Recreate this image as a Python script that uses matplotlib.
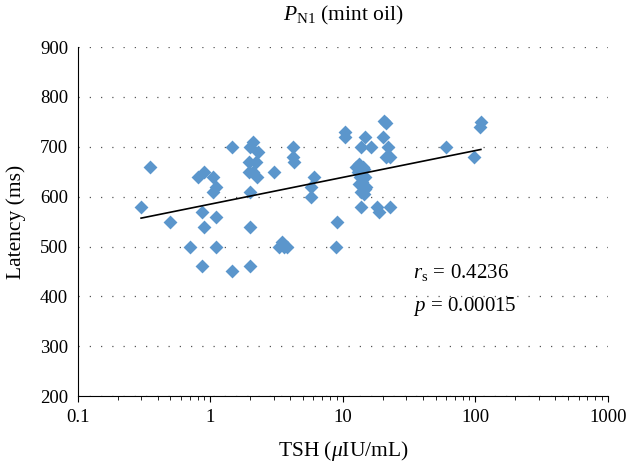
import numpy as np
import matplotlib
matplotlib.use("Agg")
from matplotlib import pyplot as plt
from matplotlib.ticker import LogLocator, NullFormatter

plt.rcParams['font.family'] = ['Liberation Serif', 'DejaVu Serif']
plt.rcParams['mathtext.fontset'] = 'custom'
plt.rcParams['mathtext.rm'] = 'Liberation Serif'
plt.rcParams['mathtext.it'] = 'Liberation Serif:italic'

# TSH (uIU/mL) vs latency (ms)
tsh = [0.3, 0.35, 0.5, 0.7, 0.87, 0.87, 0.9, 0.8, 0.9, 1.05, 1.1, 1.05, 1.1, 1.1,
       1.45, 1.45, 2.0, 2.1, 2.3, 1.95, 2.2, 1.95, 2.1, 2.25, 3.0, 2.0, 2.0, 2.0,
       3.3, 3.5, 3.6, 3.8, 4.2, 4.2, 4.3, 5.7, 6.1, 5.7, 9.0, 8.9, 10.3, 10.3,
       12.5, 13.2, 14.2, 13.0, 14.5, 13.5, 14.8, 13.2, 14.0, 15.0, 13.8, 14.5, 14.8,
       13.8, 14.7, 16.2, 20.5, 21.0, 20.0, 22.0, 21.0, 22.5, 13.8, 18.0, 18.7, 22.5,
       60.0, 97.0, 110.0, 108.0]
latency = [580, 660, 550, 500, 460, 570, 540, 640, 650, 640, 620, 610, 560, 500,
           700, 450, 700, 710, 690, 670, 670, 650, 650, 640, 650, 610, 540, 460,
           500, 510, 500, 500, 700, 680, 670, 620, 640, 600, 550, 500, 730, 720,
           660, 665, 660, 650, 655, 640, 640, 625, 630, 620, 610, 605, 615,
           700, 720, 700, 752, 748, 720, 700, 680, 680, 580, 580, 570, 580,
           700, 680, 750, 740]

# logarithmic trend line as drawn in the source (y = a*log10(x) + b)
trend_a = 53.7
trend_b = 585.0

fig = plt.figure(figsize=(6.28, 4.66), dpi=100)
ax = fig.add_axes([0.124, 0.150, 0.844, 0.749])

ax.scatter(tsh, latency, marker='D', s=50, color='#5b96cc', linewidths=0, zorder=3)

xt = np.array([min(tsh), max(tsh)])
ax.plot(xt, trend_a*np.log10(xt) + trend_b, color='black', lw=1.2, zorder=4)

ax.set_xscale('log')
ax.set_xlim(0.1, 1000)
ax.set_ylim(200, 900)
ax.set_yticks([200, 300, 400, 500, 600, 700, 800, 900])
ax.set_xticks([0.1, 1, 10, 100, 1000])
ax.set_xticklabels(['0.1', '1', '10', '100', '1000'])
ax.xaxis.set_minor_locator(LogLocator(base=10, subs=np.arange(2, 10)))
ax.xaxis.set_minor_formatter(NullFormatter())

ax.yaxis.grid(True, linestyle=(0, (1, 8)), color='#555555', lw=0.9)
ax.set_axisbelow(True)
for s in ['top', 'right']:
    ax.spines[s].set_visible(False)
ax.tick_params(axis='y', length=0, labelsize=13.5, pad=7)
ax.tick_params(axis='x', which='major', length=4, direction='out', labelsize=13.5, pad=5)
ax.tick_params(axis='x', which='minor', length=3, direction='out')

ax.set_title(r'$P_{\mathrm{N1}}$ (mint oil)', fontsize=15.5, pad=19)
ax.set_xlabel(r'TSH ($\mathit{\mu}$IU/mL)', fontsize=15.5, labelpad=10)
ax.set_ylabel('Latency (ms)', fontsize=15.5, labelpad=10)

ax.text(0.632, 0.337, r'$r_{\mathrm{s}}\,=\,$0.4236', transform=ax.transAxes, fontsize=15)
ax.text(0.632, 0.243, r'$p\,=\,$0.00015', transform=ax.transAxes, fontsize=15)

fig.savefig('out.png', dpi=100)
